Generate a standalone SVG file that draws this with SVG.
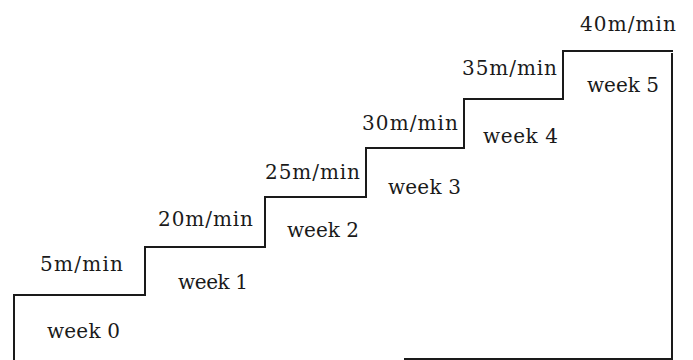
<svg xmlns="http://www.w3.org/2000/svg" width="693" height="360" viewBox="0 0 693 360">
<style>
.ln{fill:none;stroke:#1a1a1a;stroke-width:2;stroke-linecap:square}
.t{font-family:"DejaVu Serif","Liberation Serif",serif;font-size:20px;fill:#1a1a1a}
</style>
<rect width="693" height="360" fill="#ffffff"/>
<g id="connectors">
<path class="ln" d="M14,360 V295 H145 V247 H265 V197 H366 V148 H464 V99 H563 V51 H672"/>
<path class="ln" d="M672,54 V359 H405"/>
</g>
<g id="step0"><text class="t" x="40" y="271" textLength="83" lengthAdjust="spacing">5m/min</text><text class="t" x="47" y="338" textLength="73" lengthAdjust="spacing">week 0</text></g>
<g id="step1"><text class="t" x="158" y="226" textLength="95" lengthAdjust="spacing">20m/min</text><text class="t" x="178" y="289" textLength="70" lengthAdjust="spacing">week 1</text></g>
<g id="step2"><text class="t" x="265" y="179" textLength="95" lengthAdjust="spacing">25m/min</text><text class="t" x="287" y="237" textLength="72" lengthAdjust="spacing">week 2</text></g>
<g id="step3"><text class="t" x="362" y="130" textLength="96" lengthAdjust="spacing">30m/min</text><text class="t" x="388" y="194" textLength="73" lengthAdjust="spacing">week 3</text></g>
<g id="step4"><text class="t" x="462" y="75" textLength="95" lengthAdjust="spacing">35m/min</text><text class="t" x="483" y="143" textLength="75" lengthAdjust="spacing">week 4</text></g>
<g id="step5"><text class="t" x="580" y="31" textLength="96" lengthAdjust="spacing">40m/min</text><text class="t" x="587" y="92" textLength="72" lengthAdjust="spacing">week 5</text></g>
</svg>
